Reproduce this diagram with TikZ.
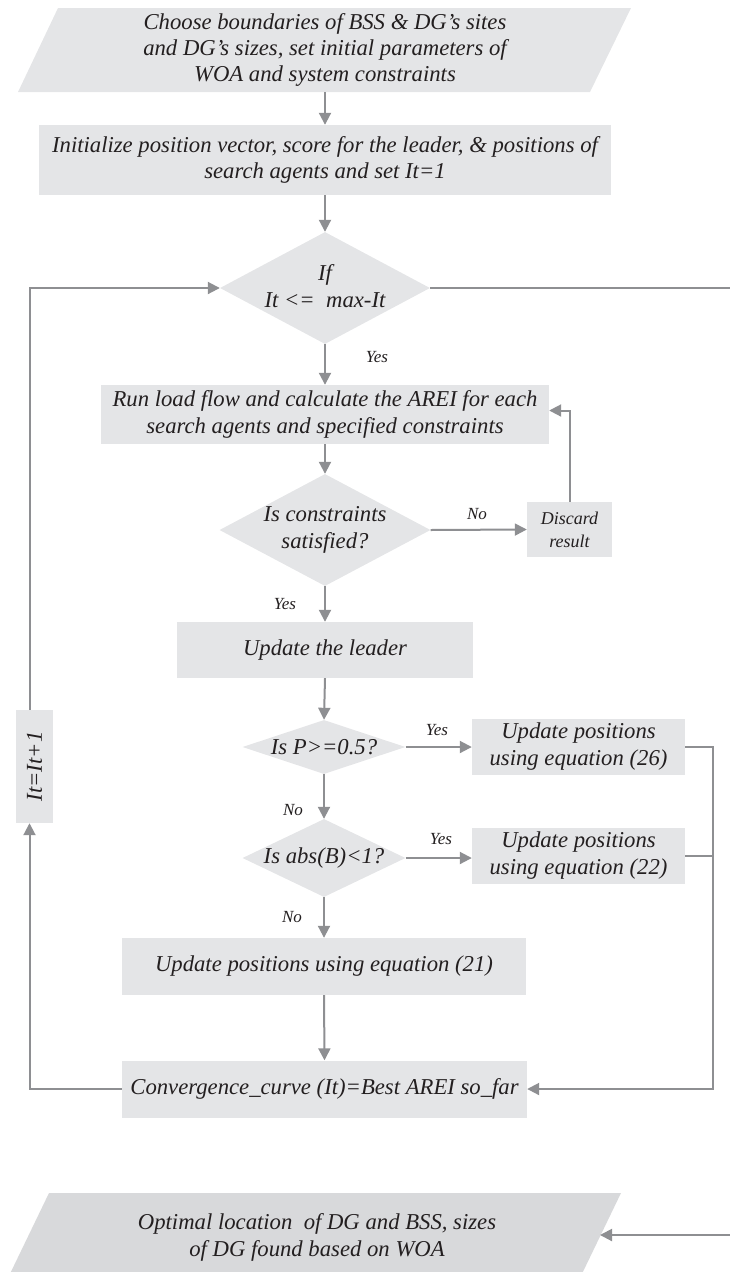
\documentclass[tikz,border=0pt]{standalone}
\usepackage{fontspec}
\setmainfont{Liberation Serif}
\usetikzlibrary{arrows.meta,shapes.geometric,calc}
\definecolor{boxc}{HTML}{E4E5E7}
\definecolor{outc}{HTML}{D8D9DB}
\definecolor{linec}{HTML}{8E8F92}
\definecolor{txtc}{HTML}{231F20}
\begin{document}
\begin{tikzpicture}[x=1pt,y=-1pt,
  box/.style={fill=boxc, draw=none, inner sep=0pt, align=center, text=txtc, font=\fontsize{22.7}{27}\selectfont\itshape},
  dia/.style={diamond, fill=boxc, draw=none, inner sep=0pt},
  txt/.style={align=center, text=txtc, font=\fontsize{22.7}{27}\selectfont\itshape, inner sep=0pt},
  lab/.style={text=txtc, font=\fontsize{17}{19}\selectfont\itshape, inner sep=0pt},
  conn/.style={draw=linec, line width=2pt, -{Triangle[length=12pt,width=12pt]}},
  plain/.style={draw=linec, line width=2pt},
]
\useasboundingbox (0,0) rectangle (730,1272);

% input parallelogram
\coordinate (inTL) at (58,8);
\coordinate (inTR) at (631,8);
\coordinate (inBR) at (590,92);
\coordinate (inBL) at (18,92);
\fill[boxc] (inTL) -- (inTR) -- (inBR) -- (inBL) -- cycle;
\node[txt, font=\fontsize{22.7}{26}\selectfont\itshape] (in) at (325,50) {Choose boundaries of BSS \& DG’s sites\\and DG’s sizes, set initial parameters of\\WOA and system constraints};

\node[box, minimum width=572pt, minimum height=70pt, font=\fontsize{22.7}{26}\selectfont\itshape] (init) at (325,160)
  {Initialize position vector, score for the leader, \& positions of\\search agents and set It=1};

\node[dia, minimum width=210pt, minimum height=112pt] (d1) at (325,288) {};
\node[txt] (d1t) at (325,286) {If\\It <=\ \ max-It};

\node[box, minimum width=448pt, minimum height=59pt] (run) at (325,414.5)
  {Run load flow and calculate the AREI for each\\search agents and specified constraints};

\node[dia, minimum width=211pt, minimum height=112pt] (d2) at (325,530) {};
\node[txt] (d2t) at (325,530) {Is constraints\\satisfied?};

\node[box, minimum width=85pt, minimum height=55pt, font=\fontsize{18}{23}\selectfont\itshape] (discard) at (569.5,529.5) {Discard\\result};

\node[box, minimum width=296pt, minimum height=56pt] (leader) at (325,650) {Update the leader};

\node[dia, minimum width=163pt, minimum height=54pt] (d3) at (324,747) {};
\node[txt] (d3t) at (324,747) {Is P>=0.5?};

\node[box, minimum width=213pt, minimum height=56pt] (b26) at (578.5,747) {Update positions\\using equation (26)};

\node[dia, minimum width=163pt, minimum height=78pt] (d4) at (324,858) {};
\node[txt] (d4t) at (324,858) {Is abs(B)<1?};

\node[box, minimum width=213pt, minimum height=56pt] (b22) at (578.5,856) {Update positions\\using equation (22)};

\node[box, minimum width=404pt, minimum height=57pt] (b21) at (324,966.5) {Update positions using equation (21)};

\node[box, minimum width=405pt, minimum height=57pt] (conv) at (324.5,1089) {Convergence\_curve (It)=Best AREI so\_far};

\node[box, minimum width=37pt, minimum height=113pt] (itbox) at (34.5,766.5) {};
\node[txt, rotate=90] (itt) at (itbox) {It=It+1};

% output parallelogram
\coordinate (outTL) at (49,1193);
\coordinate (outTR) at (621,1193);
\coordinate (outBR) at (579,1280);
\coordinate (outBL) at (7,1280);
\coordinate (outR) at (600,1235);
\fill[outc] (outTL) -- (outTR) -- (outBR) -- (outBL) -- cycle;
\node[txt] (out) at (317,1237) {Optimal location\ \ of DG and BSS, sizes\\of DG found based on WOA};

% labels
\node[lab] at (377,357) {Yes};
\node[lab] at (477,514) {No};
\node[lab] at (285,604) {Yes};
\node[lab] at (437,730) {Yes};
\node[lab] at (293,810) {No};
\node[lab] at (441,839) {Yes};
\node[lab] at (292,917) {No};

% connectors
\draw[conn] (inBL -| init.north) -- (init.north);
\draw[conn] (init.south) -- (d1.north);
\draw[conn] (d1.south) -- (run.north);
\draw[conn] (run.south) -- (d2.north);
\draw[conn] (d2.east) -- (discard.west);
\draw[conn] (discard.north) |- ($(run.east)+(0,-4)$);
\draw[conn] (d2.south) -- (leader.north);
\draw[conn] (leader.south) -- (d3.north);
\draw[conn] (d3.east) -- (b26.west);
\draw[conn] (d3.south) -- (d4.north);
\draw[conn] (d4.east) -- (d4.east -| b22.west);
\draw[conn] (d4.south) -- (b21.north);
\draw[conn] (b21.south) -- (conv.north);
\coordinate (mr) at (713,1089);
\draw[conn] (b26.east) -| (mr) -- (conv.east);
\draw[plain] (b22.east) -- (b22.east -| mr);
\coordinate (lx) at (29.5,1089);
\draw[conn] (conv.west) -- (lx) -- (lx |- itbox.south);
\draw[conn] (lx |- itbox.north) |- (d1.west);
\coordinate (rx) at (736,288);
\draw[conn] (d1.east) -- (rx) |- (outR);
\end{tikzpicture}
\end{document}
